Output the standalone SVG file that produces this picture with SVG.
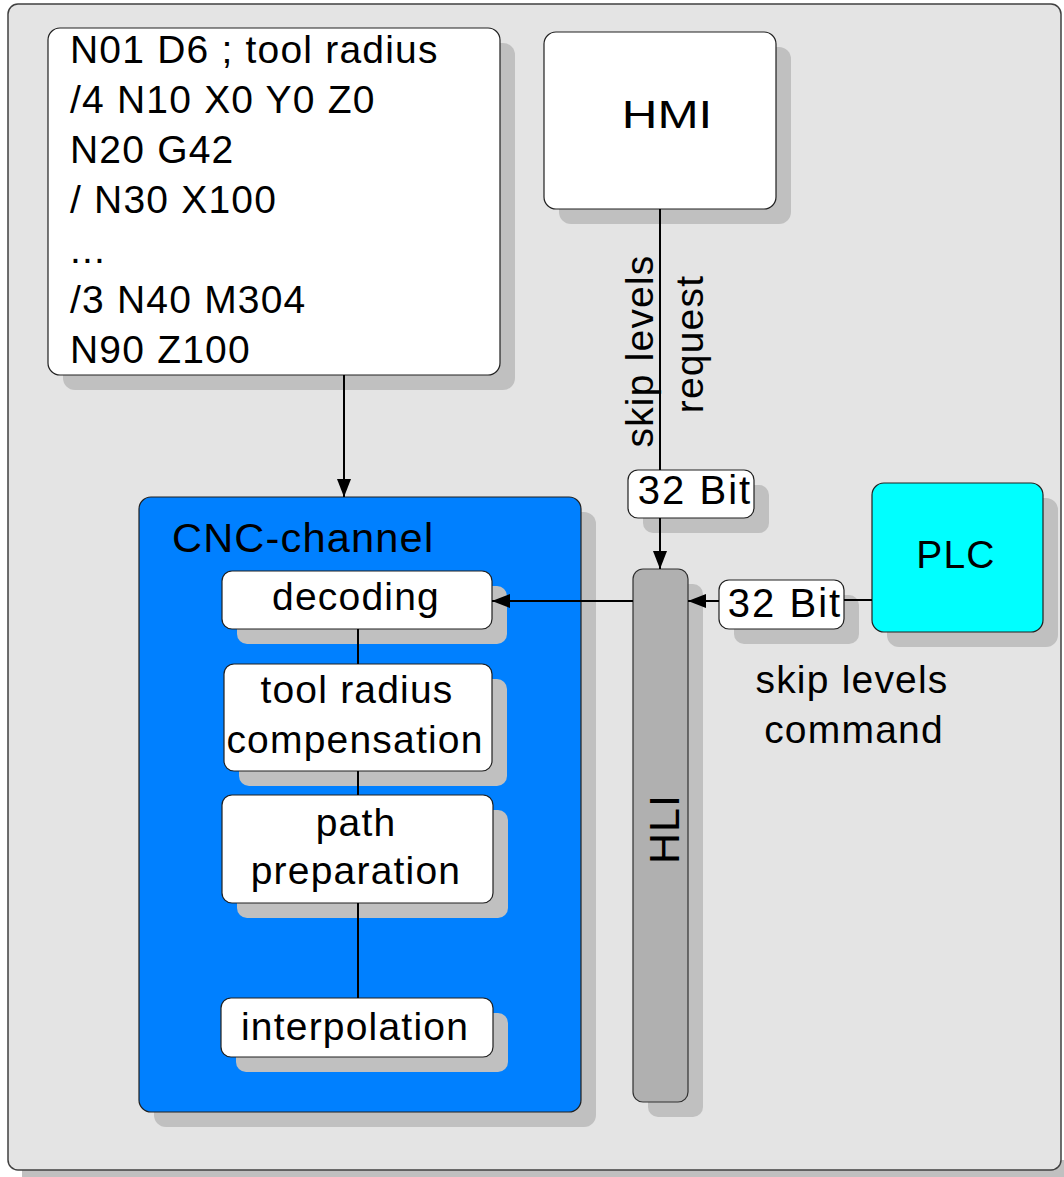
<svg xmlns="http://www.w3.org/2000/svg" width="1064" height="1177" viewBox="0 0 1064 1177">
  <defs>
    <style>
      text { font-family: "Liberation Sans", Arial, sans-serif; fill: #000; }
      .t { font-size: 39px; letter-spacing: 1.2px; }
      .c { text-anchor: middle; }
      .shadow { fill: #c0c0c0; stroke: none; }
      .box { fill: #ffffff; stroke: #202020; stroke-width: 1.2; }
      .conn { stroke: #000; stroke-width: 2; fill: none; }
    </style>
    <marker id="arrow" markerUnits="userSpaceOnUse" markerWidth="18" markerHeight="14" viewBox="0 0 18 14" refX="18" refY="7" orient="auto">
      <path d="M0,0 L18,7 L0,14 z" fill="#000"/>
    </marker>
  </defs>

  <rect x="0" y="0" width="1064" height="1177" fill="#ffffff"/>
  <!-- outer frame -->
  <g id="frame">
    <rect x="22" y="1160" width="1042" height="17" fill="#c0c0c0"/>
    <rect x="8" y="4" width="1053" height="1166" rx="10" fill="#e4e4e4" stroke="#404040" stroke-width="1.5"/>
  </g>

  <g id="program">
    <rect class="shadow" x="63" y="43" width="452" height="347" rx="12"/>
    <rect class="box" x="48" y="28" width="452" height="347" rx="12"/>
    <text class="t" x="70" y="63">N01 D6 ; tool radius</text>
    <text class="t" x="70" y="113">/4 N10 X0 Y0 Z0</text>
    <text class="t" x="70" y="163">N20 G42</text>
    <text class="t" x="70" y="213">/ N30 X100</text>
    <text class="t" x="70" y="263">...</text>
    <text class="t" x="70" y="313">/3 N40 M304</text>
    <text class="t" x="70" y="363">N90 Z100</text>
  </g>

  <g id="hmi">
    <rect class="shadow" x="559" y="47" width="232" height="177" rx="12"/>
    <rect class="box" x="544" y="32" width="232" height="177" rx="12"/>
    <text transform="translate(667,128) scale(1.3,1)" style="font-size:38px" class="c">HMI</text>
  </g>

  <g id="cnc-channel">
    <rect class="shadow" x="154" y="512" width="442" height="615" rx="12"/>
    <rect x="139" y="497" width="442" height="615" rx="12" fill="#0080ff" stroke="#202020" stroke-width="1.2"/>
    <text class="t" style="font-size:41.5px" x="172" y="552">CNC-channel</text>
  </g>

  <g id="decoding">
    <rect class="shadow" x="237" y="586" width="270" height="58" rx="10"/>
    <rect class="box" x="222" y="571" width="270" height="58" rx="10"/>
    <text class="t c" x="356" y="610">decoding</text>
  </g>

  <g id="tool-radius-compensation">
    <rect class="shadow" x="239" y="679" width="268" height="107" rx="10"/>
    <rect class="box" x="224" y="664" width="268" height="107" rx="10"/>
    <text class="t c" x="357" y="703">tool radius</text>
    <text class="t c" x="355" y="753">compensation</text>
  </g>

  <g id="path-preparation">
    <rect class="shadow" x="237" y="810" width="271" height="108" rx="10"/>
    <rect class="box" x="222" y="795" width="271" height="108" rx="10"/>
    <text class="t c" x="356" y="836">path</text>
    <text class="t c" x="356" y="884">preparation</text>
  </g>

  <g id="interpolation">
    <rect class="shadow" x="236" y="1013" width="272" height="59" rx="10"/>
    <rect class="box" x="221" y="998" width="272" height="59" rx="10"/>
    <text class="t c" x="355" y="1040">interpolation</text>
  </g>

  <g id="hli">
    <rect class="shadow" x="648" y="584" width="55" height="533" rx="10"/>
    <rect x="633" y="569" width="55" height="533" rx="10" fill="#b0b0b0" stroke="#303030" stroke-width="1.2"/>
    <text transform="translate(679,829) rotate(-90)" style="font-size:43px;letter-spacing:1px" class="c">HLI</text>
  </g>

  <g id="plc">
    <rect class="shadow" x="887" y="498" width="171" height="149" rx="12"/>
    <rect x="872" y="483" width="171" height="149" rx="12" fill="#00ffff" stroke="#202020" stroke-width="1.2"/>
    <text class="t c" x="956" y="568">PLC</text>
  </g>

  <g id="bit-hmi">
    <rect class="shadow" x="643" y="485" width="126" height="48" rx="10"/>
    <rect class="box" x="628" y="470" width="126" height="48" rx="10"/>
    <text class="c" style="font-size:40px;letter-spacing:2px" x="695" y="504">32 Bit</text>
  </g>

  <g id="bit-plc">
    <rect class="shadow" x="734" y="595" width="125" height="49" rx="10"/>
    <rect class="box" x="719" y="580" width="125" height="49" rx="10"/>
    <text class="c" style="font-size:40px;letter-spacing:2px" x="785" y="617">32 Bit</text>
  </g>

  <g id="connectors">
    <line class="conn" x1="344" y1="375" x2="344" y2="497" marker-end="url(#arrow)"/>
    <line class="conn" x1="660" y1="209" x2="660" y2="470"/>
    <line class="conn" x1="660" y1="518" x2="660" y2="569" marker-end="url(#arrow)"/>
    <line class="conn" x1="872" y1="600" x2="844" y2="600"/>
    <line class="conn" x1="719" y1="601" x2="688" y2="601" marker-end="url(#arrow)"/>
    <line class="conn" x1="633" y1="601" x2="492" y2="601" marker-end="url(#arrow)"/>
    <line class="conn" x1="358" y1="629" x2="358" y2="664"/>
    <line class="conn" x1="358" y1="771" x2="358" y2="795"/>
    <line class="conn" x1="358" y1="903" x2="358" y2="998"/>
  </g>

  <g id="labels">
    <text class="t c" transform="translate(653,351) rotate(-90)">skip levels</text>
    <text class="t c" transform="translate(703,344) rotate(-90)">request</text>
    <text class="t c" x="852" y="693">skip levels</text>
    <text class="t c" x="854" y="743">command</text>
  </g>
</svg>
